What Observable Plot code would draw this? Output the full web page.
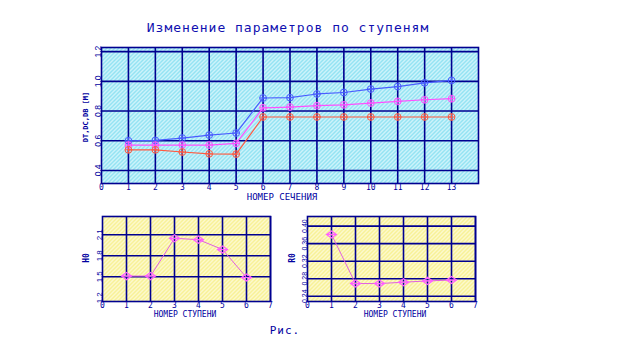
<!DOCTYPE html>
<html>
<head>
<meta charset="utf-8">
<script src="https://cdn.jsdelivr.net/npm/d3@7"></script>
<script src="https://cdn.jsdelivr.net/npm/@observablehq/plot@0.6"></script>
<style>
  html, body { margin: 0; padding: 0; background: #fff; }
  body { width: 640px; height: 350px; position: relative; overflow: hidden; font-family: "DejaVu Sans Mono", monospace; color: #0000a0; }
  .box { position: absolute; }
  .lbl { position: absolute; font-size: 8px; white-space: nowrap; color: #0000a0; font-family: "DejaVu Sans Mono", monospace; }
  .rot { transform: translate(-50%, -50%) rotate(-90deg); }
  .ctr { transform: translate(-50%, -50%); }
  #title { position: absolute; left: 288px; top: 27px; transform: translate(-50%, -50%); font-size: 13px; letter-spacing: 1px; white-space: nowrap; color: #1010b0; }
  #caption { position: absolute; left: 285px; top: 330px; transform: translate(-50%, -50%); font-size: 11px; letter-spacing: 1px; color: #0000a0; }
</style>
</head>
<body>
<div id="title">Изменение параметров по ступеням</div>
<div class="box" id="top" style="left:80px; top:40px;"></div>
<div class="box" id="bl" style="left:80px; top:208px;"></div>
<div class="box" id="br" style="left:285px; top:208px;"></div>
<div class="lbl rot" style="left:86px; top:117px; font-size:7px; font-weight:bold;">DT,DC,DB [M]</div>
<div class="lbl ctr" style="left:282px; top:197px; font-size:9px;">НОМЕР СЕЧЕНИЯ</div>
<div class="lbl rot" style="left:86px; top:258px; font-weight:bold;">H0</div>
<div class="lbl ctr" style="left:185px; top:314px;">НОМЕР СТУПЕНИ</div>
<div class="lbl rot" style="left:292px; top:258px; font-weight:bold;">R0</div>
<div class="lbl ctr" style="left:395px; top:314px;">НОМЕР СТУПЕНИ</div>
<div id="caption">Рис.</div>
<script>
// ---- data ----
const sections = [1, 2, 3, 4, 5, 6, 7, 8, 9, 10, 11, 12, 13];
const dtValues = [0.600, 0.602, 0.618, 0.638, 0.652, 0.888, 0.890, 0.915, 0.925, 0.948, 0.965, 0.990, 1.006];
const dcValues = [0.571, 0.571, 0.571, 0.571, 0.582, 0.822, 0.827, 0.836, 0.842, 0.854, 0.865, 0.876, 0.883];
const dbValues = [0.539, 0.539, 0.524, 0.512, 0.510, 0.760, 0.760, 0.760, 0.760, 0.760, 0.760, 0.760, 0.760];
const seriesNames = ["DT", "DC", "DB"];
const seriesColors = ["#4a5cff", "#ff50ff", "#ff5a40"];

const stages = [1, 2, 3, 4, 5, 6];
const h0Values = [1.51, 1.51, 2.05, 2.03, 1.89, 1.49];
const r0Values = [0.381, 0.269, 0.269, 0.272, 0.275, 0.277];

const topXTicks = [0, 1, 2, 3, 4, 5, 6, 7, 8, 9, 10, 11, 12, 13];
const topYTicks = [0.4, 0.6, 0.8, 1.0, 1.2];
const stageXTicks = [0, 1, 2, 3, 4, 5, 6, 7];
const h0YTicks = [1.2, 1.5, 1.8, 2.1];
const h0Grid = [1.5, 1.8, 2.1];
const r0YTicks = [0.24, 0.28, 0.32, 0.36, 0.40];

// ---- style ----
const NAVY = "#000090";
const INK = "#0000a0";
const FONT = "DejaVu Sans Mono, monospace";
const NARROW = "Liberation Sans Narrow, Liberation Sans, sans-serif";

const circlePlus = {
  draw(ctx, size) {
    const r = Math.sqrt(size / Math.PI);
    ctx.moveTo(r, 0); ctx.arc(0, 0, r, 0, 2 * Math.PI);
    ctx.moveTo(-r, 0); ctx.lineTo(r, 0);
    ctx.moveTo(0, -r); ctx.lineTo(0, r);
  }
};
const diamondBar = {
  draw(ctx, size) {
    const r = Math.sqrt(size / Math.PI);
    const w = r * 1.2, h = r * 0.85;
    ctx.moveTo(-w, 0); ctx.lineTo(0, -h); ctx.lineTo(w, 0); ctx.lineTo(0, h); ctx.closePath();
    ctx.moveTo(-w, 0); ctx.lineTo(w, 0);
  }
};

const defs = `<defs>
<pattern id="hatchCyan" patternUnits="userSpaceOnUse" width="4" height="4">
<rect width="4" height="4" fill="#7cdcef"/>
<path d="M-1,1 l2,-2 M0,4 l4,-4 M3,5 l2,-2" stroke="#eafcff" stroke-width="1.3"/>
</pattern>
<pattern id="hatchYellow" patternUnits="userSpaceOnUse" width="4" height="4">
<rect width="4" height="4" fill="#f6ee80"/>
<path d="M-1,1 l2,-2 M0,4 l4,-4 M3,5 l2,-2" stroke="#fffde8" stroke-width="1.3"/>
</pattern>
</defs>`;

function yLabels(ticks, fmt, size) {
  return Plot.text(ticks, {
    y: d => d, text: d => fmt(d), frameAnchor: "left", rotate: -90,
    textAnchor: "middle", lineAnchor: "bottom", dx: -1, fill: INK, fontSize: size, fontFamily: NARROW
  });
}

function xAxis(ticks) {
  return Plot.axisX(ticks, { tickSize: 0, tickPadding: 1, fill: INK, fontSize: 8, fontFamily: FONT, label: null });
}

function finish(svg) {
  svg.insertAdjacentHTML("afterbegin", defs);
  svg.style.overflow = "visible";
  return svg;
}

// ---- top chart ----
const topRows = [];
seriesNames.forEach((name, k) => {
  const vals = [dtValues, dcValues, dbValues][k];
  sections.forEach((s, i) => topRows.push({ series: name, section: s, value: vals[i] }));
});

const topPlot = Plot.plot({
  width: 420, height: 165,
  marginLeft: 21, marginRight: 22, marginTop: 7, marginBottom: 22,
  style: { background: "transparent", fontFamily: FONT },
  x: { domain: [0, 14], axis: null },
  y: { domain: [0.312, 1.228], axis: null },
  color: { domain: seriesNames, range: seriesColors },
  marks: [
    Plot.frame({ fill: "url(#hatchCyan)", stroke: null }),
    Plot.gridX(topXTicks.slice(1), { stroke: NAVY, strokeOpacity: 1, strokeWidth: 1.6 }),
    Plot.gridY(topYTicks, { stroke: NAVY, strokeOpacity: 1, strokeWidth: 1.6 }),
    Plot.frame({ stroke: NAVY, strokeWidth: 1.6 }),
    xAxis(topXTicks),
    yLabels(topYTicks, d => d.toFixed(1), 8.5),
    Plot.line(topRows, { x: "section", y: "value", z: "series", stroke: "series", strokeWidth: 1.2 }),
    Plot.dot(topRows, { x: "section", y: "value", stroke: "series", symbol: circlePlus, r: 3.4, strokeWidth: 1, fill: "none" })
  ]
});
document.getElementById("top").appendChild(finish(topPlot));

// ---- bottom-left chart (H0) ----
const h0Rows = stages.map((s, i) => ({ stage: s, value: h0Values[i] }));
const blPlot = Plot.plot({
  width: 200, height: 115,
  marginLeft: 22, marginRight: 10, marginTop: 8, marginBottom: 22,
  style: { background: "transparent", fontFamily: FONT },
  x: { domain: [0, 7], axis: null },
  y: { domain: [1.147, 2.361], axis: null },
  marks: [
    Plot.frame({ fill: "url(#hatchYellow)", stroke: null }),
    Plot.gridX(stageXTicks.slice(1), { stroke: NAVY, strokeOpacity: 1, strokeWidth: 1.6 }),
    Plot.gridY(h0Grid, { stroke: NAVY, strokeOpacity: 1, strokeWidth: 1.6 }),
    Plot.frame({ stroke: NAVY, strokeWidth: 1.6 }),
    xAxis(stageXTicks),
    yLabels(h0YTicks, d => d.toFixed(1), 8),
    Plot.line(h0Rows, { x: "stage", y: "value", stroke: "#e060e0", strokeWidth: 1 }),
    Plot.dot(h0Rows, { x: "stage", y: "value", stroke: "#ff60ff", symbol: diamondBar, r: 4.2, strokeWidth: 1.2, fill: "none" })
  ]
});
document.getElementById("bl").appendChild(finish(blPlot));

// ---- bottom-right chart (R0) ----
const r0Rows = stages.map((s, i) => ({ stage: s, value: r0Values[i] }));
const brPlot = Plot.plot({
  width: 200, height: 115,
  marginLeft: 22, marginRight: 10, marginTop: 8, marginBottom: 22,
  style: { background: "transparent", fontFamily: FONT },
  x: { domain: [0, 7], axis: null },
  y: { domain: [0.228, 0.422], axis: null },
  marks: [
    Plot.frame({ fill: "url(#hatchYellow)", stroke: null }),
    Plot.gridX(stageXTicks.slice(1), { stroke: NAVY, strokeOpacity: 1, strokeWidth: 1.6 }),
    Plot.gridY(r0YTicks, { stroke: NAVY, strokeOpacity: 1, strokeWidth: 1.6 }),
    Plot.frame({ stroke: NAVY, strokeWidth: 1.6 }),
    xAxis(stageXTicks),
    yLabels(r0YTicks, d => d.toFixed(2), 7),
    Plot.line(r0Rows, { x: "stage", y: "value", stroke: "#e060e0", strokeWidth: 1 }),
    Plot.dot(r0Rows, { x: "stage", y: "value", stroke: "#ff60ff", symbol: diamondBar, r: 4.2, strokeWidth: 1.2, fill: "none" })
  ]
});
document.getElementById("br").appendChild(finish(brPlot));
</script>
</body>
</html>
